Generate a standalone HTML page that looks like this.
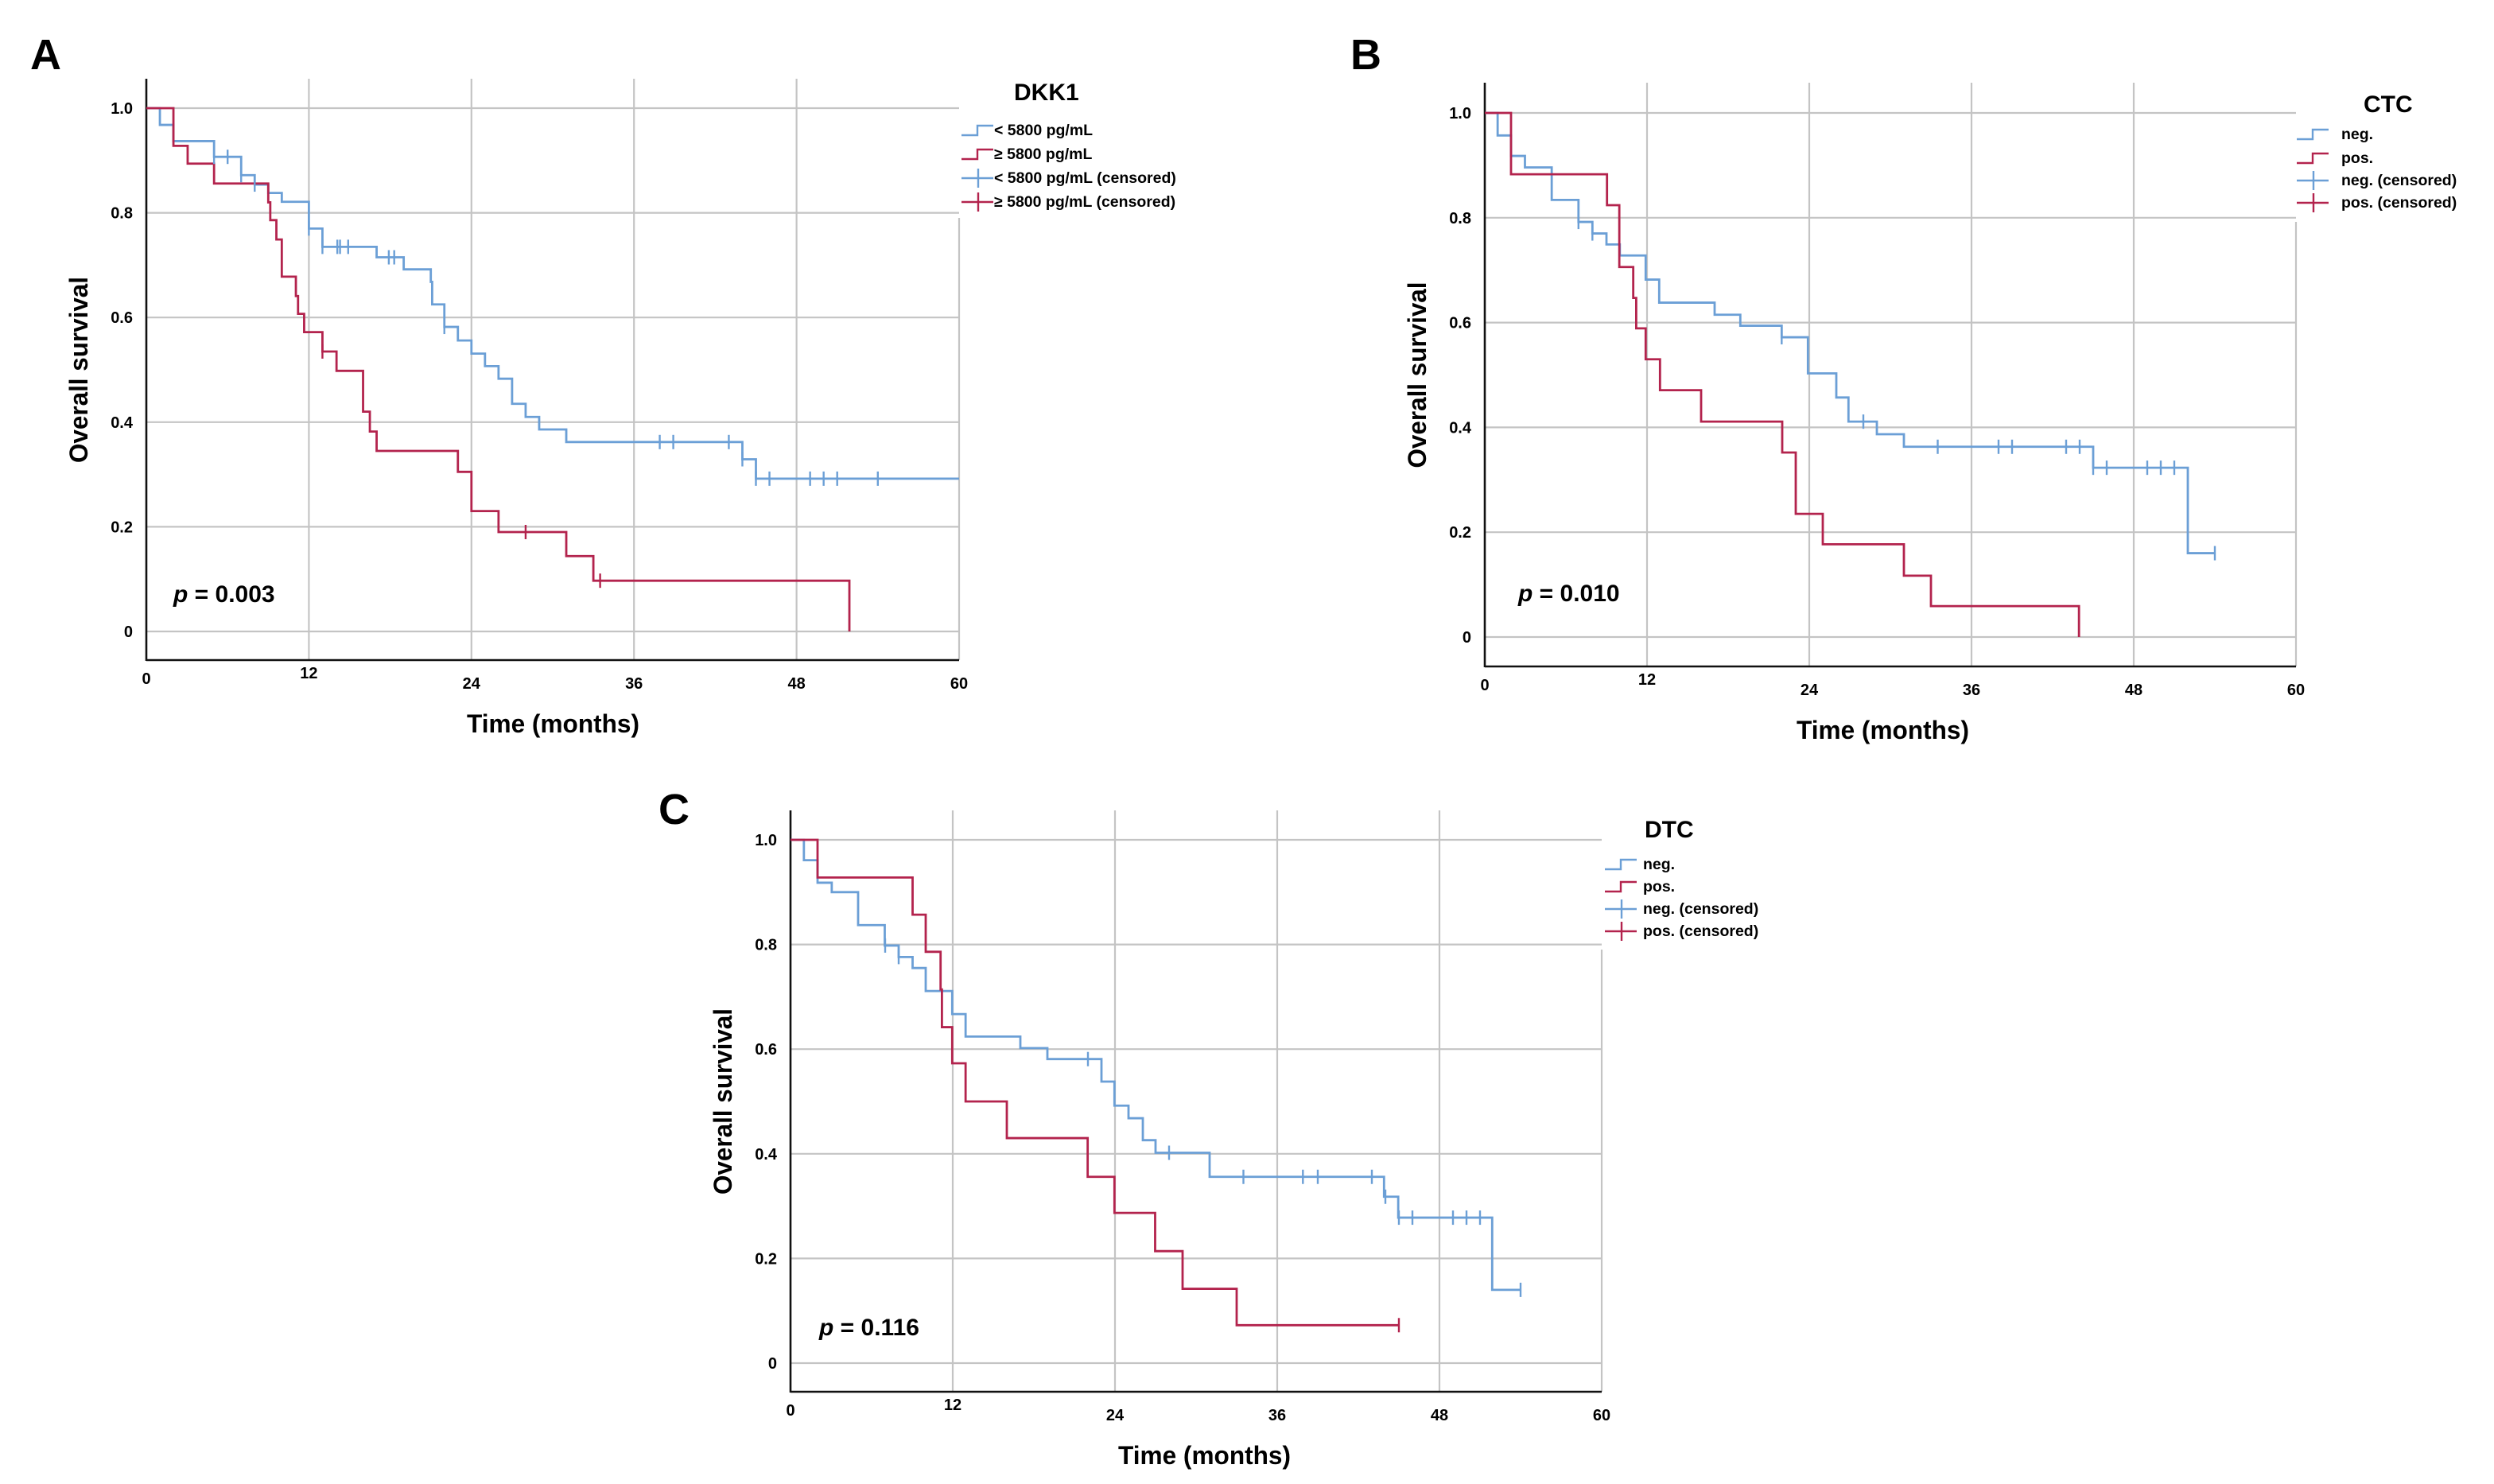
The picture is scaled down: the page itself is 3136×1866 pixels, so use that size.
<!DOCTYPE html>
<html><head><meta charset="utf-8"><style>
html,body{margin:0;padding:0;background:#fff;}
svg{display:block;font-family:"Liberation Sans",Arial,sans-serif;}
</style></head><body>
<svg id="fig" width="3136" height="1866" viewBox="0 0 3136 1866" xmlns="http://www.w3.org/2000/svg"></svg>
<script>
// ---------- data ----------
const xTickLabels = ["0","12","24","36","48","60"];
const xTickValues = [0,12,24,36,48,60];
const yTickLabels = ["1.0","0.8","0.6","0.4","0.2","0"];
const yTickValues = [1.0,0.8,0.6,0.4,0.2,0];

const aBlueT = [1,2,5,7,8,9,10,12,13,17,19,21,21.1,22,23,24,25,26,27,28,29,31,44,45];
const aBlueS = [0.968,0.937,0.907,0.872,0.854,0.838,0.821,0.770,0.735,0.715,0.692,0.668,0.625,0.582,0.556,0.531,0.507,0.483,0.435,0.410,0.386,0.362,0.329,0.292];
const aBlueCens = [5,6,7,8,12,13,14.1,14.3,14.9,17.9,18.3,22,37.9,38.9,43,44,45,46,49,50,51,54];
const aBlueEnd = 60;
const aRedT = [2,3.05,5,9,9.15,9.6,10,11.04,11.2,11.65,13,14.04,16,16.5,17,23,24,26,31,33,51.9];
const aRedS = [0.928,0.894,0.856,0.820,0.786,0.749,0.678,0.641,0.607,0.572,0.535,0.498,0.420,0.382,0.345,0.305,0.230,0.190,0.144,0.097,0];
const aRedCens = [13,28,33.5];
const aRedEnd = 51.9;

const bBlueT = [0.95,1.94,2.97,4.95,6.93,7.96,9,9.99,11.9,12.9,17,18.9,21.96,23.9,26,26.9,29,31,45,52];
const bBlueS = [0.957,0.918,0.896,0.834,0.792,0.770,0.749,0.728,0.682,0.638,0.615,0.594,0.572,0.503,0.457,0.411,0.387,0.363,0.323,0.160];
const bBlueCens = [6.93,7.96,21.96,28,33.5,38,39,43,44,45,46,49,50,51,54];
const bBlueEnd = 54;
const bRedT = [1.94,9.04,9.95,10.98,11.2,11.9,12.96,16,22,23,25,31,33,43.95];
const bRedS = [0.883,0.824,0.706,0.647,0.589,0.530,0.471,0.411,0.352,0.235,0.177,0.117,0.059,0];
const bRedCens = [];
const bRedEnd = 43.95;

const cBlueT = [0.99,2,3.05,5,6.97,8,9.03,10,11.96,12.95,17,19,23,23.96,25,26.06,27,31,43.9,44.95,51.9];
const cBlueS = [0.961,0.918,0.9,0.837,0.798,0.776,0.755,0.711,0.667,0.624,0.602,0.581,0.538,0.492,0.468,0.426,0.402,0.356,0.318,0.278,0.140];
const cBlueCens = [7,8,22,28,33.5,37.9,39,43,44,45,46,49,50,51,54];
const cBlueEnd = 54;
const cRedT = [2,9.03,10,11.1,11.2,11.96,12.95,16,21.98,23.96,26.97,29,33];
const cRedS = [0.928,0.857,0.786,0.714,0.642,0.573,0.5,0.43,0.356,0.287,0.214,0.142,0.0725];
const cRedCens = [45];
const cRedEnd = 45;

const BLUE = "#6b9fd6", RED = "#b3234d", GRID = "#c4c4c4";
const NS = "http://www.w3.org/2000/svg";
const svg = document.getElementById("fig");

function mk(tag, attrs, parent, text) {
  const e = document.createElementNS(NS, tag);
  for (const k in attrs) e.setAttribute(k, attrs[k]);
  if (text !== undefined) e.textContent = text;
  (parent || svg).appendChild(e);
  return e;
}

function survAt(T, S, t) {
  let v = 1;
  for (let i = 0; i < T.length; i++) if (T[i] <= t + 1e-9) v = S[i];
  return v;
}

function drawPanel(cfg) {
  const g = mk("g", {});
  
  
  const sx = t => cfg.x0 + (cfg.x1 - cfg.x0) * t / 60;
  const sy = v => cfg.y0 + (cfg.y1 - cfg.y0) * v;

  yTickValues.forEach(v => {
    const l = mk("line", {x1: cfg.x0, x2: cfg.x1, y1: sy(v), y2: sy(v), stroke: GRID, "stroke-width": 2.2}, g);
    
    
  });
  xTickValues.slice(1, 5).forEach(t => {
    const l = mk("line", {x1: sx(t), x2: sx(t), y1: cfg.top, y2: cfg.bottom, stroke: GRID, "stroke-width": 2.2}, g);
    
    
  });
  const rb = mk("line", {x1: cfg.x1, x2: cfg.x1, y1: cfg.rtop, y2: cfg.bottom, stroke: GRID, "stroke-width": 2.2}, g);
  
  
  const ya = mk("line", {x1: cfg.x0, x2: cfg.x0, y1: cfg.top, y2: cfg.bottom + 1, stroke: "#111", "stroke-width": 2.6}, g);
  
  
  const xa = mk("line", {x1: cfg.x0, x2: cfg.x1, y1: cfg.bottom, y2: cfg.bottom, stroke: "#111", "stroke-width": 2.6}, g);
  
  

  yTickLabels.forEach((lab, i) => {
    const t = mk("text", {x: cfg.x0 - 17, y: sy(yTickValues[i]) + 7, "text-anchor": "end", "font-size": 20, "font-weight": "bold"}, g, lab);
    
    
  });
  const stagger = [-6, -13, 0, 0, 0, 0];
  xTickLabels.forEach((lab, i) => {
    const t = mk("text", {x: sx(xTickValues[i]), y: cfg.bottom + 36 + stagger[i], "text-anchor": "middle", "font-size": 20, "font-weight": "bold"}, g, lab);
    
    
  });
  const xt = mk("text", {x: (cfg.x0 + cfg.x1) / 2 - 108 + cfg.xtDx, y: cfg.bottom + 91, "font-size": 32, "font-weight": "bold", textLength: 217, lengthAdjust: "spacingAndGlyphs"}, g, "Time (months)");
  
  
  const yc = (sy(1) + sy(0)) / 2;
  const ytx = cfg.x0 - 85;
  const yt = mk("text", {x: ytx, y: yc + 11, "font-size": 32, "font-weight": "bold", textLength: 234, lengthAdjust: "spacingAndGlyphs"}, g, "Overall survival");
  
  
  yt.setAttribute('transform', `rotate(-90 ${ytx} ${yc}) translate(-117 0)`);

  function curve(T, S, end, color, nm) {
    let d = `M${sx(0)},${sy(1)}`;
    let prev = 1;
    for (let i = 0; i < T.length; i++) {
      d += ` L${sx(T[i])},${sy(prev)} L${sx(T[i])},${sy(S[i])}`;
      prev = S[i];
    }
    d += ` L${sx(end)},${sy(prev)}`;
    const p = mk("path", {d: d, fill: "none", stroke: color, "stroke-width": 2.8}, g);
    
    
  }
  function cens(C, T, S, color, nm) {
    C.forEach(t => {
      const v = survAt(T, S, t);
      const l = mk("line", {x1: sx(t), x2: sx(t), y1: sy(v) - 9, y2: sy(v) + 9, stroke: color, "stroke-width": 2.4}, g);
      
      
    });
  }
  curve(cfg.blueT, cfg.blueS, cfg.blueEnd, BLUE, 'curve-group-1');
  curve(cfg.redT, cfg.redS, cfg.redEnd, RED, 'curve-group-2');
  cens(cfg.blueC, cfg.blueT, cfg.blueS, BLUE, 'censor-mark-group-1');
  cens(cfg.redC, cfg.redT, cfg.redS, RED, 'censor-mark-group-2');

  const pv = mk("text", {x: cfg.px, y: cfg.py, "font-size": 30, "font-weight": "bold"}, g);
  
  
  mk("tspan", {"font-style": "italic"}, pv, "p");
  mk("tspan", {}, pv, " = " + cfg.p);

  const pl = mk("text", {x: cfg.lx, y: cfg.ly, "font-size": 54, "font-weight": "bold"}, g, cfg.letter);
  
  

  const lg = mk("g", {}, g);
  
  
  const lt = mk("text", {x: cfg.ltx, y: cfg.lty, "font-size": 30, "font-weight": "bold"}, lg, cfg.ltitle);
  
  
  const cols = [BLUE, RED, BLUE, RED];
  cfg.lentries.forEach((txt, i) => {
    const by = cfg.lby[i];
    const cy = by - 6;
    const s = cfg.lsx;
    if (i < 2) {
      mk("path", {d: `M${s},${cy + 6} L${s + 20},${cy + 6} L${s + 20},${cy - 6} L${s + 40},${cy - 6}`, fill: "none", stroke: cols[i], "stroke-width": 2.4}, lg);
    } else {
      mk("line", {x1: s, x2: s + 40, y1: cy, y2: cy, stroke: cols[i], "stroke-width": 2.4}, lg);
      mk("line", {x1: s + 21, x2: s + 21, y1: cy - 12, y2: cy + 12, stroke: cols[i], "stroke-width": 2.4}, lg);
    }
    const t = mk("text", {x: cfg.ltxt, y: by, "font-size": 19.5, "font-weight": "bold"}, lg, txt);
    
    
  });
}

drawPanel({name: "panel-a-dkk1", letter: "A", lx: 38, ly: 87,
  x0: 184, x1: 1206, y0: 794, y1: 136, top: 99, bottom: 830, rtop: 274, xtDx: 0,
  blueT: aBlueT, blueS: aBlueS, blueC: aBlueCens, blueEnd: aBlueEnd,
  redT: aRedT, redS: aRedS, redC: aRedCens, redEnd: aRedEnd,
  p: "0.003", px: 218, py: 757,
  ltitle: "DKK1", ltx: 1275, lty: 126, lsx: 1209, ltxt: 1250, lby: [170, 200, 230, 260],
  lentries: ["< 5800 pg/mL", "\u2265 5800 pg/mL", "< 5800 pg/mL (censored)", "\u2265 5800 pg/mL (censored)"]});

drawPanel({name: "panel-b-ctc", letter: "B", lx: 1698, ly: 87,
  x0: 1867, x1: 2887, y0: 801, y1: 142, top: 104, bottom: 838, rtop: 279, xtDx: -10,
  blueT: bBlueT, blueS: bBlueS, blueC: bBlueCens, blueEnd: bBlueEnd,
  redT: bRedT, redS: bRedS, redC: bRedCens, redEnd: bRedEnd,
  p: "0.010", px: 1909, py: 756,
  ltitle: "CTC", ltx: 2972, lty: 141, lsx: 2888, ltxt: 2944, lby: [175, 205, 233, 261],
  lentries: ["neg.", "pos.", "neg. (censored)", "pos. (censored)"]});

drawPanel({name: "panel-c-dtc", letter: "C", lx: 828, ly: 1036,
  x0: 994, x1: 2014, y0: 1714, y1: 1056, top: 1019, bottom: 1750, rtop: 1194, xtDx: 10,
  blueT: cBlueT, blueS: cBlueS, blueC: cBlueCens, blueEnd: cBlueEnd,
  redT: cRedT, redS: cRedS, redC: cRedCens, redEnd: cRedEnd,
  p: "0.116", px: 1030, py: 1679,
  ltitle: "DTC", ltx: 2068, lty: 1053, lsx: 2018, ltxt: 2066, lby: [1093, 1121, 1149, 1177],
  lentries: ["neg.", "pos.", "neg. (censored)", "pos. (censored)"]});
</script>
</body></html>
